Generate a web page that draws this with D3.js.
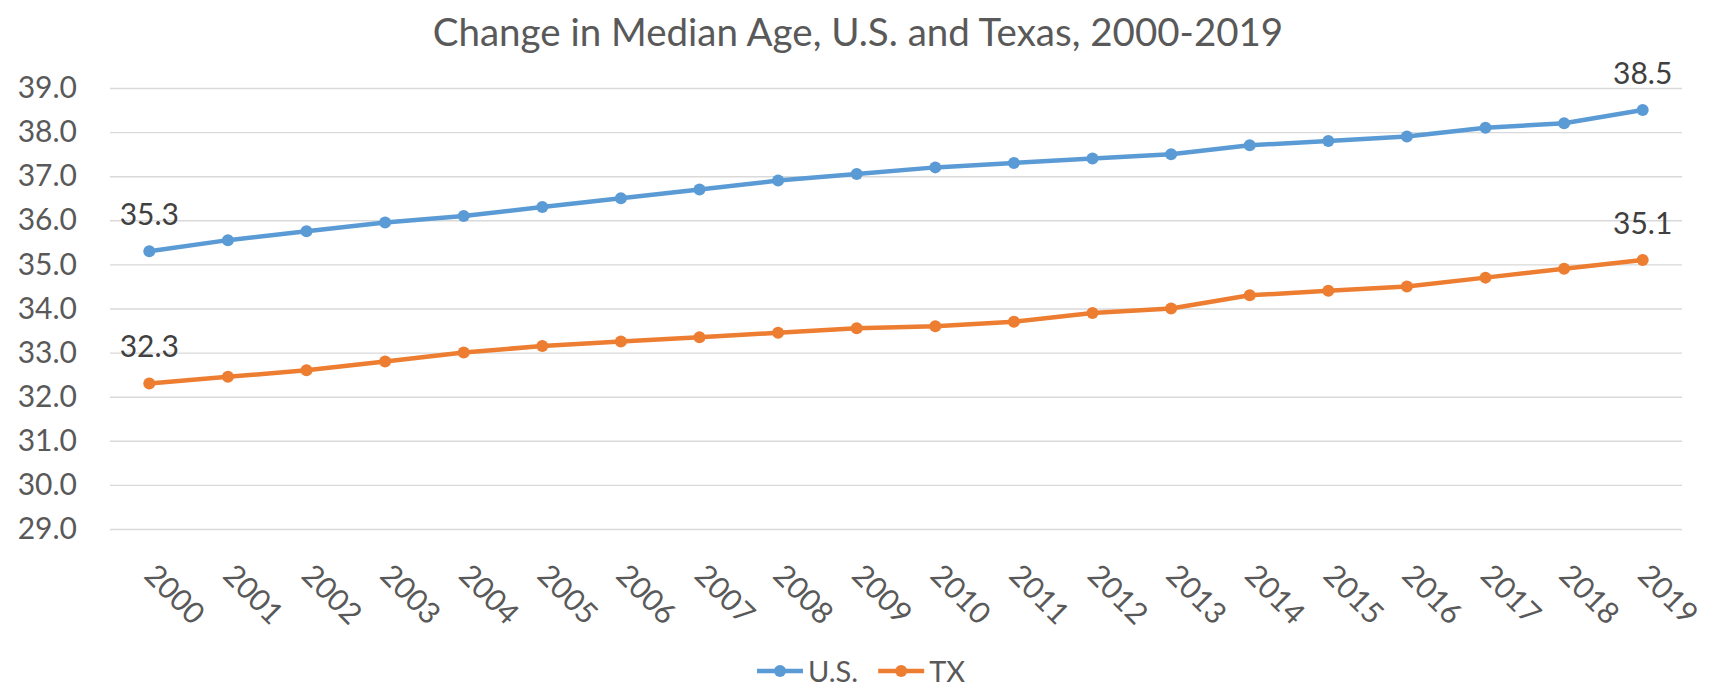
<!DOCTYPE html>
<html>
<head>
<meta charset="utf-8">
<script src="https://cdn.jsdelivr.net/npm/d3@7"></script>
<style>
  body { margin: 0; background: #fff; }
  text { font-family: Lato, "Open Sans", sans-serif; }
</style>
</head>
<body>
<div id="line-chart"></div>
<script>
/* Median age line chart, U.S. vs Texas */
const years = ["2000", "2001", "2002", "2003", "2004", "2005", "2006", "2007", "2008", "2009",
               "2010", "2011", "2012", "2013", "2014", "2015", "2016", "2017", "2018", "2019"];
const usAge = [35.3, 35.55, 35.75, 35.95, 36.1, 36.3, 36.5, 36.7, 36.9, 37.05,
               37.2, 37.3, 37.4, 37.5, 37.7, 37.8, 37.9, 38.1, 38.2, 38.5];
const txAge = [32.3, 32.45, 32.6, 32.8, 33.0, 33.15, 33.25, 33.35, 33.45, 33.55,
               33.6, 33.7, 33.9, 34.0, 34.3, 34.4, 34.5, 34.7, 34.9, 35.1];
const seriesNames = ["U.S.", "TX"];
const seriesColors = ["#5B9BD5", "#ED7D31"];
const yTicks = [29, 30, 31, 32, 33, 34, 35, 36, 37, 38, 39];

const width = 1721,
    height = 689,
    margin = ({ top: 88, right: 39, bottom: 160, left: 110 });

const svg = d3.select("#line-chart")
    .append("svg")
    .attr("width", width)
    .attr("height", height)
    .attr("viewBox", [0, 0, width, height]);

const series = seriesNames.map((name, i) => ({
    name: name,
    color: seriesColors[i],
    values: (i === 0 ? usAge : txAge).map((v, j) => ({ year: years[j], value: v }))
}));

let x = d3.scalePoint()
    .domain(years)
    .range([margin.left, width - margin.right])
    .padding(0.5);

let y = d3.scaleLinear()
    .domain([29, 39])
    .range([height - margin.bottom, margin.top]);

// gridlines + y labels
let yAxis = svg.append("g")
    .attr("transform", `translate(${margin.left},0)`)
    .call(d3.axisLeft(y)
        .tickValues(yTicks)
        .tickFormat(d3.format(".1f"))
        .tickSize(-(width - margin.left - margin.right))
        .tickPadding(33));
yAxis.select(".domain").remove();
yAxis.selectAll("line")
    .attr("stroke", "#d9d9d9")
    .attr("stroke-width", 1.4);
yAxis.selectAll("text")
    .attr("fill", "#595959")
    .style("font-size", "30px");

// x labels, rotated
let xAxis = svg.append("g")
    .attr("transform", "translate(0,577)")
    .call(d3.axisBottom(x).tickSize(0));
xAxis.select(".domain").remove();
xAxis.selectAll("text")
    .attr("y", 0)
    .attr("dy", 0)
    .attr("text-anchor", "start")
    .attr("transform", "translate(-7,0) rotate(45)")
    .attr("fill", "#595959")
    .style("font-size", "30px");

let line = d3.line()
    .x(d => x(d.year))
    .y(d => y(d.value));

let groups = svg.selectAll(".series")
    .data(series)
    .join("g")
    .attr("class", "series");

groups.append("path")
    .attr("d", d => line(d.values))
    .attr("fill", "none")
    .attr("stroke", d => d.color)
    .attr("stroke-width", 4.5)
    .attr("stroke-linejoin", "round");

groups.selectAll("circle")
    .data(d => d.values.map(v => ({ ...v, color: d.color })))
    .join("circle")
    .attr("cx", d => x(d.year))
    .attr("cy", d => y(d.value))
    .attr("r", 6)
    .attr("fill", d => d.color);

// labels on first and last point only
groups.selectAll(".val")
    .data(d => [d.values[0], d.values[d.values.length - 1]])
    .join("text")
    .attr("class", "val")
    .attr("x", d => x(d.year))
    .attr("y", d => y(d.value) - 26)
    .attr("text-anchor", "middle")
    .attr("fill", "#404040")
    .style("font-size", "30px")
    .text(d => d3.format(".1f")(d.value));

svg.append("text")
    .attr("x", 858)
    .attr("y", 46)
    .attr("text-anchor", "middle")
    .attr("fill", "#595959")
    .style("font-size", "38.5px")
    .text("Change in Median Age, U.S. and Texas, 2000-2019");

// legend
let legend = svg.append("g")
    .attr("transform", "translate(757,671)");
let lx = 0;
series.forEach(s => {
    let item = legend.append("g").attr("transform", `translate(${lx},0)`);
    item.append("line")
        .attr("x1", 0).attr("x2", 46)
        .attr("stroke", s.color)
        .attr("stroke-width", 4.5);
    item.append("circle")
        .attr("cx", 23)
        .attr("r", 6)
        .attr("fill", s.color);
    let t = item.append("text")
        .attr("x", 51)
        .attr("y", 11)
        .attr("fill", "#595959")
        .style("font-size", "29px")
        .text(s.name);
    lx += 51 + t.node().getComputedTextLength() + 20;
});
</script>
</body>
</html>
